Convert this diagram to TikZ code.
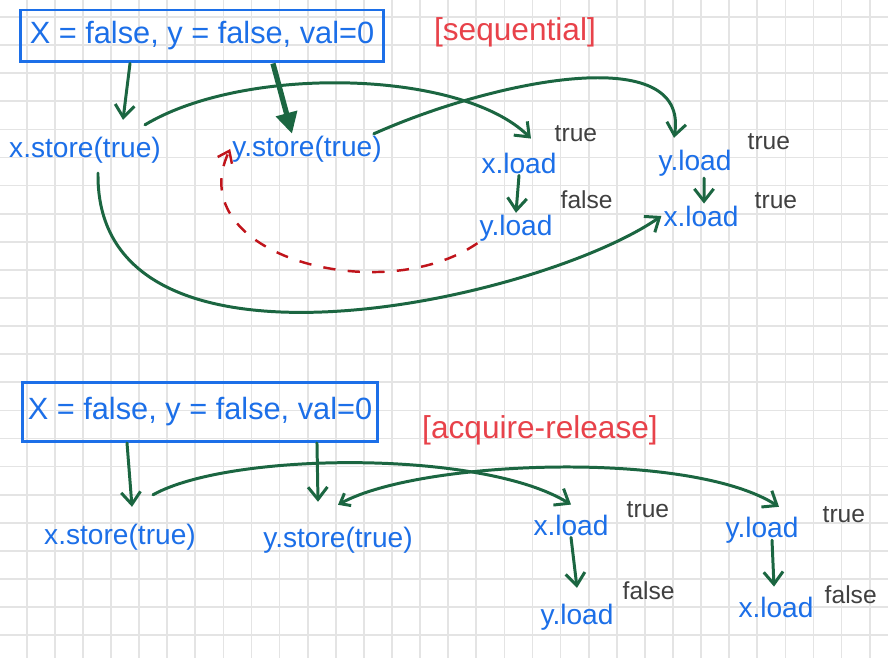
\documentclass[tikz,border=0pt]{standalone}
\usepackage{fontspec}
\setmainfont{Liberation Sans}
\usepackage{xcolor}
\usetikzlibrary{arrows.meta, positioning, calc}
\definecolor{inkblue}{HTML}{1C6FE8}
\definecolor{inkgreen}{HTML}{1B6641}
\definecolor{inkred}{HTML}{E8424A}
\definecolor{inkdarkred}{HTML}{C0141B}
\definecolor{inkgray}{HTML}{404040}
\definecolor{gridgray}{HTML}{E4E4E4}
\tikzset{
  opnode/.style={font=\fontsize{16}{19}\selectfont, text=inkblue, inner sep=1pt},
  initbox/.style={draw=inkblue, line width=1.7pt, text=inkblue,
                  font=\fontsize{17.5}{21}\selectfont, inner sep=2pt},
  retval/.style={font=\fontsize{14}{16}\selectfont, text=inkgray, inner sep=1pt},
  modelbl/.style={font=\fontsize{18}{21}\selectfont, text=inkred, inner sep=1pt},
  hb/.style={-{Straight Barb[length=7pt,width=11pt]}, line width=1.7pt,
             color=inkgreen, line cap=round},
  hbthick/.style={-{Triangle[length=12pt,width=12pt]}, line width=3pt,
                  color=inkgreen},
  cycle/.style={-{Straight Barb[length=6pt,width=9pt]}, line width=1.4pt,
                color=inkdarkred, dash pattern=on 7pt off 7pt},
}

\begin{document}
\begin{tikzpicture}[x=0.02cm, y=-0.02cm]

  % ── Paper ────────────────────────────────────────────────────────────────
  \fill[white] (0,0) rectangle (888,658);
  \useasboundingbox (0,0) rectangle (888,658);
  \foreach \gx in {0,...,30}
    \draw[gridgray, line width=1pt] ({26.7+28.1*\gx},0) -- ({26.7+28.1*\gx},658);
  \foreach \gy in {0,...,22}
    \draw[gridgray, line width=1pt] (0,{17+28.1*\gy}) -- (888,{17+28.1*\gy});

  % ── Sequential: nodes ────────────────────────────────────────────────────
  \node[initbox, minimum width=7.26cm, minimum height=1.04cm] at (202,36) (ib1)
    {X = false, y = false, val=0};
  \node[modelbl] at (515,32) (seq) {[sequential]};

  \node[opnode] at (85,150)  (xs1) {x.store(true)};
  \node[opnode] at (307,149) (ys1) {y.store(true)};
  \node[opnode] at (519,163) (xl1) {x.load};
  \node[opnode] at (516,228) (yl1) {y.load};
  \node[opnode] at (695,163) (yl2) {y.load};
  \node[opnode] at (701,216) (xl2) {x.load};

  \node[retval, above right=0.13cm and -0.12cm of xl1] (xl1r) {true};
  \node[retval, above right=0.03cm and 0.08cm of yl1]  (yl1r) {false};
  \node[retval, above right=-0.09cm and 0.24cm of yl2] (yl2r) {true};
  \node[retval, above right=-0.15cm and 0.24cm of xl2] (xl2r) {true};

  % ── Sequential: edges ────────────────────────────────────────────────────
  \draw[hb] ([xshift=-1.44cm]ib1.south) -- ([xshift=0.76cm,yshift=0.3cm]xs1.north);
  \draw[hbthick] ([xshift=1.42cm]ib1.south) -- ([xshift=-0.3cm]ys1.north);

  \draw[hb] ([xshift=1.2cm,yshift=0.2cm]xs1.north)
    .. controls +(100,-60) and +(-70,-69) .. ([xshift=0.24cm,yshift=0.24cm]xl1.north);
  \draw[hb] ([xshift=-0.2cm]ys1.north east)
    .. controls +(121,-54) and +(16,-97) .. ([xshift=-0.42cm,yshift=0.2cm]yl2.north);

  \draw[hb] (xl1.south) -- (yl1.north);
  \draw[hb] ([xshift=0.18cm]yl2.south) -- ([xshift=0.06cm]xl2.north);

  \draw[hb] ([xshift=0.26cm,yshift=-0.16cm]xs1.south)
    .. controls +(-3,227) and +(-121,84) .. (xl2.west);

  % y.load false closes the cycle back to y.store
  \draw[cycle] (yl1.south west)
    .. controls +(-96,66) and +(-50,106) .. (ys1.west);

  % ── Acquire-release: nodes ───────────────────────────────────────────────
  \node[initbox, minimum width=7.1cm, minimum height=1.18cm] at (200,412) (ib2)
    {X = false, y = false, val=0};
  \node[modelbl] at (540,430) (acq) {[acquire-release]};

  \node[opnode] at (120,537) (xs2) {x.store(true)};
  \node[opnode] at (338,540) (ys2) {y.store(true)};
  \node[opnode] at (571,525) (xl3) {x.load};
  \node[opnode] at (577,617) (yl3) {y.load};
  \node[opnode] at (762,530) (yl4) {y.load};
  \node[opnode] at (776,607) (xl4) {x.load};

  \node[retval, above right=-0.15cm and 0.28cm of xl3] (xl3r) {true};
  \node[retval, above right=0cm and 0.1cm of yl3]      (yl3r) {false};
  \node[retval, above right=-0.21cm and 0.4cm of yl4]  (yl4r) {true};
  \node[retval, above right=-0.23cm and 0.14cm of xl4] (xl4r) {false};

  % ── Acquire-release: edges ───────────────────────────────────────────────
  \draw[hb] ([xshift=-1.46cm]ib2.south) -- ([xshift=0.24cm,yshift=0.3cm]xs2.north);
  \draw[hb] ([xshift=2.34cm]ib2.south) -- ([xshift=-0.4cm,yshift=0.46cm]ys2.north);

  \draw[hb] ([xshift=0.66cm,yshift=0.54cm]xs2.north)
    .. controls +(77,-43) and +(-89,-55) .. ([yshift=0.16cm]xl3.north);
  \draw[hb, {Straight Barb[length=5pt,width=8pt]}-{Straight Barb[length=7pt,width=11pt]}]
    ([yshift=0.4cm]ys2.north)
    .. controls +(82,-45) and +(-89,-57) .. ([xshift=0.34cm,yshift=0.16cm]yl4.north);

  \draw[hb] (xl3.south) -- ([yshift=0.28cm]yl3.north);
  \draw[hb] ([xshift=0.2cm,yshift=0.1cm]yl4.south) -- ([xshift=-0.04cm,yshift=0.16cm]xl4.north);

\end{tikzpicture}
\end{document}
